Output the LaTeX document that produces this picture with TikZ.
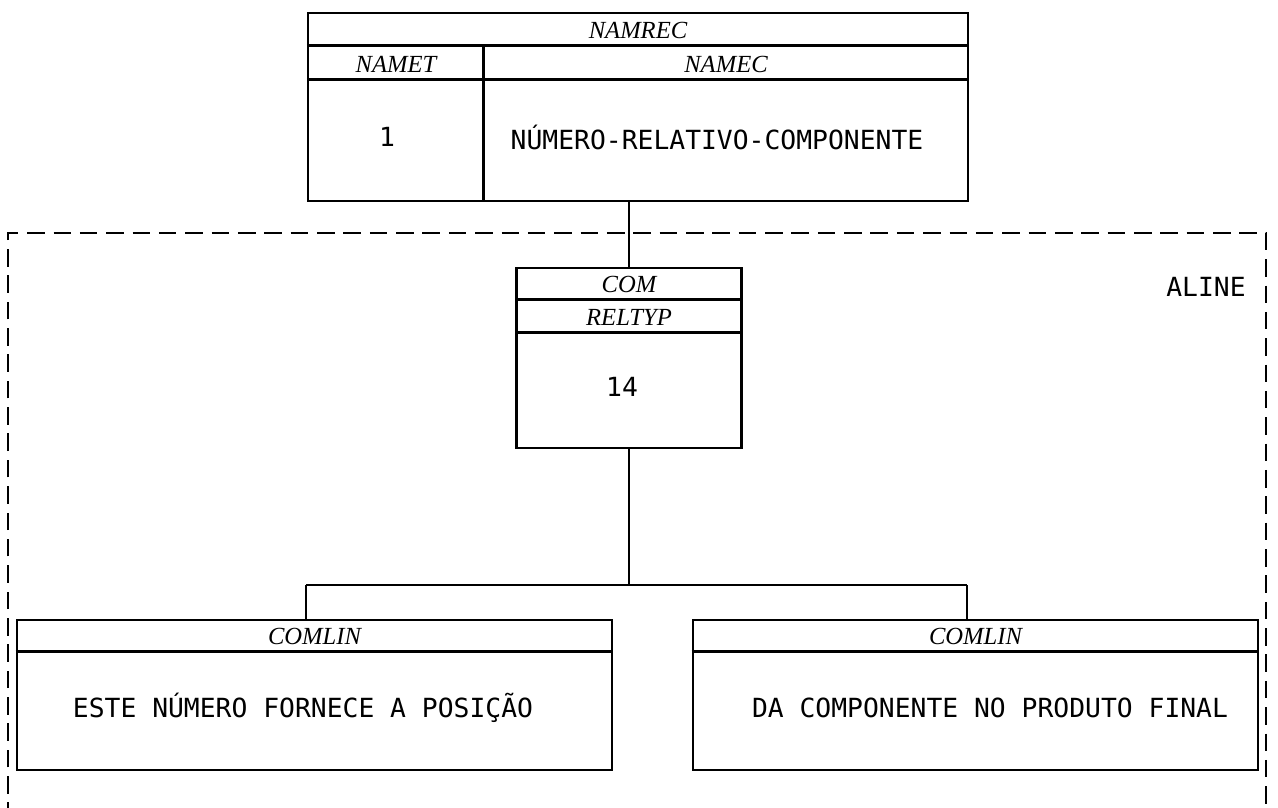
\documentclass[tikz,border=0pt]{standalone}
\usepackage{fontspec}
\newfontfamily\plotfont{DejaVu Sans Mono}
\newfontfamily\labelfont{Liberation Serif}
\usetikzlibrary{calc, positioning}

\begin{document}
\begin{tikzpicture}[
        x=0.02cm, y=-0.02cm,
        recbox/.style={
            draw,
            line width=1.5pt,
            inner sep=0pt
        },
        lbl/.style={font=\labelfont\itshape\fontsize{14}{16}\selectfont},
        txt/.style={font=\plotfont\fontsize{15}{18}\selectfont},
        rule/.style={line width=1.5pt},
        link/.style={line width=1.2pt},
        areaframe/.style={line width=1.2pt, dash pattern=on 10pt off 5pt}
    ]
    \useasboundingbox (0,0) rectangle (1278,808);

    % Area ALINE
    \draw[areaframe] (8,820) -- (8,233) -- (1266,233) -- (1266,820);
    \node[txt] (aline) at (1206,287) {ALINE};

    % Record NAMREC
    \node[recbox, minimum width=13.2cm, minimum height=3.76cm] (namrec) at (638,107) {};
    \draw[rule] ($(namrec.north west)+(0,34)$) -- ($(namrec.north east)+(0,34)$);
    \draw[rule] ($(namrec.north west)+(0,68)$) -- ($(namrec.north east)+(0,68)$);
    \draw[rule] ($(namrec.north west)+(177,34)$) -- ($(namrec.south west)+(177,0)$);
    \node[lbl] (namrec-hd) at (638,30) {NAMREC};
    \node[lbl] (namet-hd) at (396,64) {NAMET};
    \node[lbl] (namec-hd) at (726,64) {NAMEC};
    \node[txt] (namet) at (387,137) {1};
    \node[txt] (namec) at (717,137) {NÚMERO-RELATIVO-COMPONENTE};

    % Record COM
    \node[recbox, minimum width=4.5cm, minimum height=3.6cm] (com) at (629,358) {};
    \draw[rule] ($(com.north west)+(0,33)$) -- ($(com.north east)+(0,33)$);
    \draw[rule] ($(com.north west)+(0,66)$) -- ($(com.north east)+(0,66)$);
    \node[lbl] (com-hd) at (629,284) {COM};
    \node[lbl] (reltyp-hd) at (629,317) {RELTYP};
    \node[txt] (reltyp) at (622,387) {14};

    % Records COMLIN
    \node[recbox, minimum width=11.9cm, minimum height=3.0cm] (comlin1) at (314.5,695) {};
    \draw[rule] ($(comlin1.north west)+(0,33)$) -- ($(comlin1.north east)+(0,33)$);
    \node[lbl] (comlin1-hd) at (314.5,636) {COMLIN};
    \node[txt] (comlin1-tx) at (303,708) {ESTE NÚMERO FORNECE A POSIÇÃO};

    \node[recbox, minimum width=11.3cm, minimum height=3.0cm] (comlin2) at (975.5,695) {};
    \draw[rule] ($(comlin2.north west)+(0,33)$) -- ($(comlin2.north east)+(0,33)$);
    \node[lbl] (comlin2-hd) at (975.5,636) {COMLIN};
    \node[txt] (comlin2-tx) at (990,708) {DA COMPONENTE NO PRODUTO FINAL};

    % Links
    \coordinate (brl) at (306,585);
    \coordinate (brr) at (967,585);
    \draw[link] (com.north) -- (com.north |- namrec.south);
    \draw[link] (com.south) -- (com.south |- brl);
    \draw[link] (brl) -- (brr);
    \draw[link] (brl) -- (brl |- comlin1.north);
    \draw[link] (brr) -- (brr |- comlin2.north);

\end{tikzpicture}
\end{document}
